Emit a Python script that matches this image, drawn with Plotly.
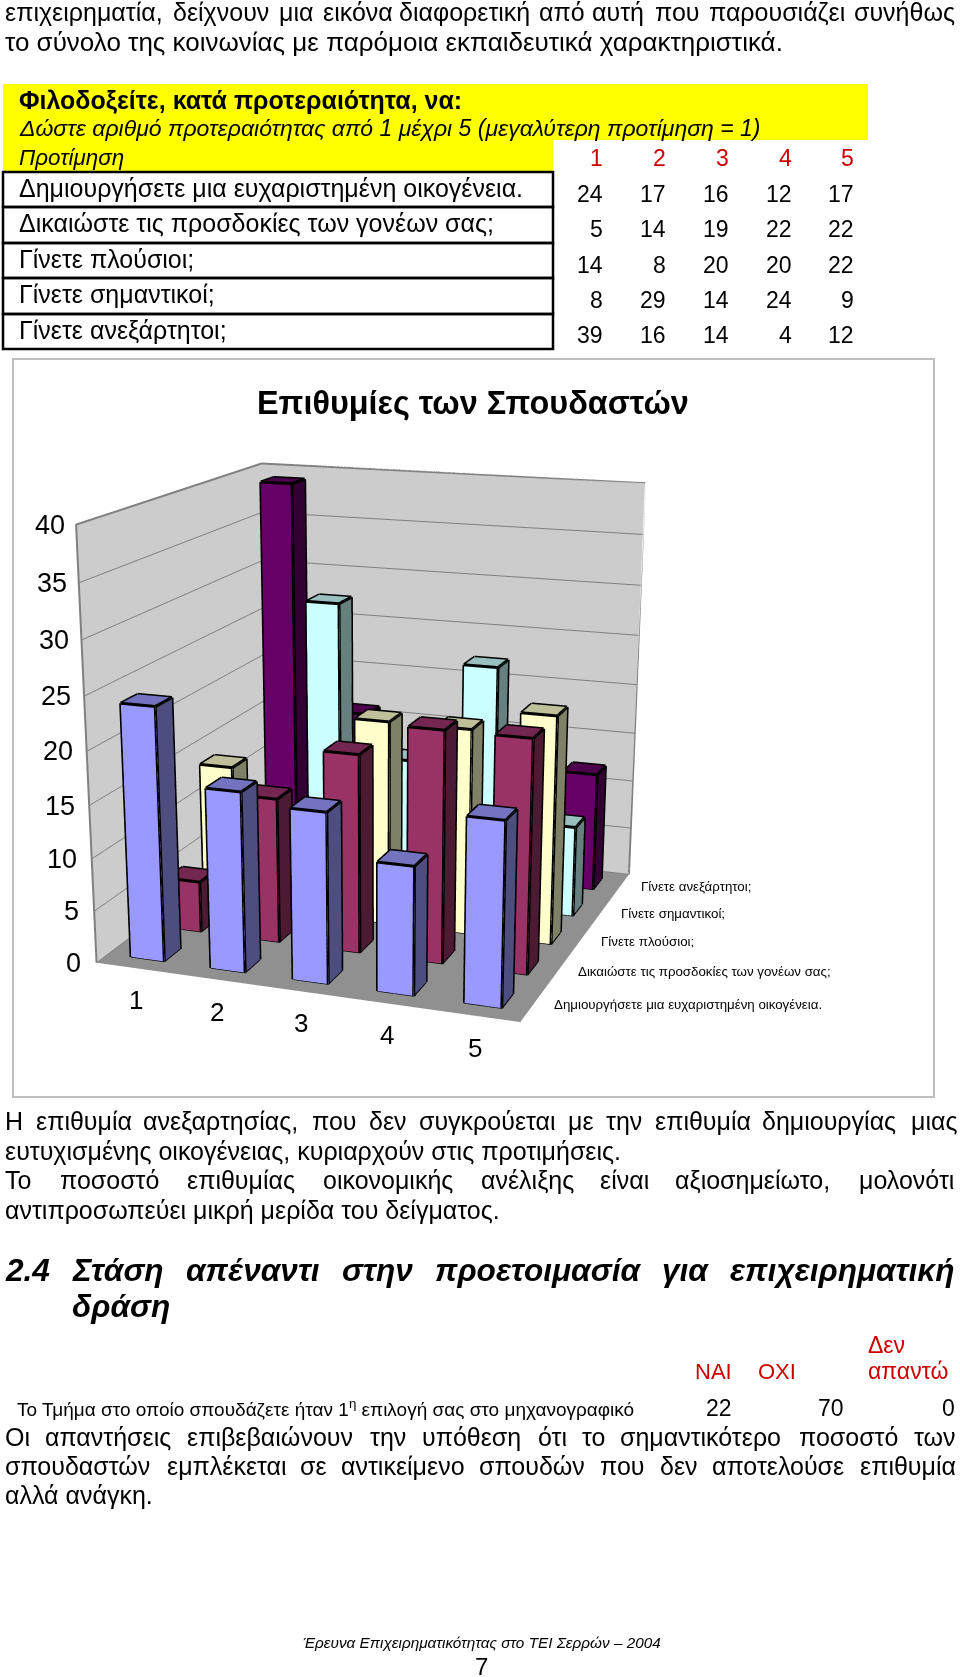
import numpy as np
import plotly.graph_objects as go

# ---------- data ----------
categories=["1","2","3","4","5"]
series_names=["Δημιουργήσετε μια ευχαριστημένη οικογένεια.","Δικαιώστε τις προσδοκίες των γονέων σας;","Γίνετε πλούσιοι;","Γίνετε σημαντικοί;","Γίνετε ανεξάρτητοι;"]
v_family=[24,17,16,12,17]
v_parents=[5,14,19,22,22]
v_rich=[14,8,20,20,22]
v_important=[8,29,14,24,9]
v_independent=[39,16,14,4,12]
rows=[v_family,v_parents,v_rich,v_important,v_independent]
z_ticks=[0,5,10,15,20,25,30,35,40]
front=["#9999FF","#993366","#FFFFCC","#CCFFFF","#660066"]
top=["#7373BF","#732650","#BFBF99","#99BFBF","#4C004C"]
side=["#4D4D80","#4D1A33","#808066","#668080","#330033"]
BW=0.42

# camera fitted to the reference
EX,EY,EZ,AX,AY,CX,CZ=1.5571,-4.3269,1.2111,1.0022,1.0097,378.39,-0.3025
half=min(CX,960-CX)
dom_x=[(CX-half)/960,(CX+half)/960]
dom_y=[0,1]

X,Y,Z,I,J_,K,FC=[],[],[],[],[],[],[]
LX,LY,LZ=[],[],[]
for s,row in enumerate(rows):
    for c,val in enumerate(row):
        x0,x1=c+.5-BW/2,c+.5+BW/2
        y0,y1=s+.5-BW/2,s+.5+BW/2
        n=len(X)
        vs=[(x0,y0,0),(x1,y0,0),(x1,y1,0),(x0,y1,0),(x0,y0,val),(x1,y0,val),(x1,y1,val),(x0,y1,val)]
        for a,b,d in vs: X.append(a);Y.append(b);Z.append(d)
        faces=[((0,1,5),front[s]),((0,5,4),front[s]),((1,2,6),side[s]),((1,6,5),side[s]),((4,5,6),top[s]),((4,6,7),top[s]),((3,0,4),side[s]),((3,4,7),side[s]),((2,3,7),side[s]),((2,7,6),side[s])]
        for (a,b,d),col in faces:
            I.append(n+a);J_.append(n+b);K.append(n+d);FC.append(col)
        for a,b in [(0,1),(1,2),(2,3),(3,0),(4,5),(5,6),(6,7),(7,4),(0,4),(1,5),(2,6),(3,7)]:
            LX+= [vs[a][0],vs[b][0],None];LY+=[vs[a][1],vs[b][1],None];LZ+=[vs[a][2],vs[b][2],None]

fig=go.Figure()
fig.add_trace(go.Mesh3d(x=X,y=Y,z=Z,i=I,j=J_,k=K,facecolor=FC,flatshading=True,hoverinfo="skip",
    lighting=dict(ambient=1,diffuse=0,specular=0,roughness=1,fresnel=0)))
fig.add_trace(go.Scatter3d(x=LX,y=LY,z=LZ,mode="lines",line=dict(color="black",width=6),hoverinfo="skip",showlegend=False))
fig.add_trace(go.Scatter3d(x=[0,0,0,5,5],y=[0,0,5,5,5],z=[0,40,40,40,0],mode="lines",line=dict(color="#808080",width=4),hoverinfo="skip",showlegend=False))
tx,ty,tz=[],[],[]
for t in z_ticks:
    tx+=[0,0,None];ty+=[0,-0.2,None];tz+=[t,t,None]
for i in range(6):
    tx+=[i,i,None];ty+=[0,-0.2,None];tz+=[0,0,None]
    tx+=[5,5.2,None];ty+=[i,i,None];tz+=[0,0,None]
fig.add_trace(go.Scatter3d(x=tx,y=ty,z=tz,mode="lines",line=dict(color="#808080",width=2),hoverinfo="skip",showlegend=False))

scene_ann=[]
for t in z_ticks:
    scene_ann.append(dict(x=0,y=0,z=t,text=str(t),showarrow=False,xanchor="right",xshift=-14+5*t/40,font=dict(family="Liberation Sans",size=27,color="black")))
for i,cname in enumerate(categories):
    scene_ann.append(dict(x=i+.5,y=0,z=0,text=cname,showarrow=False,yshift=-32,font=dict(family="Liberation Sans",size=26,color="black")))
for i,sname in enumerate(series_names):
    scene_ann.append(dict(x=5,y=i+.5,z=0,text=sname,showarrow=False,xanchor="left",xshift=19,font=dict(family="Liberation Sans",size=13.3,color="black")))

ax_common=dict(showticklabels=False,title="",zeroline=False,showspikes=False,ticks="",autorange=False,showline=False)
scene=dict(domain=dict(x=dom_x,y=dom_y),aspectmode="manual",aspectratio=dict(x=AX,y=AY,z=1),
    camera=dict(eye=dict(x=EX,y=EY,z=EZ),center=dict(x=0,y=0,z=CZ),up=dict(x=0,y=0,z=1),projection=dict(type="perspective")),
    xaxis=dict(range=[0,5],showgrid=False,showbackground=True,backgroundcolor="#CCCCCC",**ax_common),
    yaxis=dict(range=[0,5],showgrid=False,showbackground=True,backgroundcolor="#CCCCCC",**ax_common),
    zaxis=dict(range=[0,40],tickvals=z_ticks,showgrid=True,gridcolor="#808080",gridwidth=2,showbackground=True,backgroundcolor="#909090",**ax_common),
    annotations=scene_ann,bgcolor="rgba(0,0,0,0)")

FONT="Liberation Sans"
ann=[]
def T(x,y,text,size=25,color="black",anchor="left",bold=False,italic=False):
    if bold: text=f"<b>{text}</b>"
    if italic: text=f"<i>{text}</i>"
    x=x+{"left":-2,"right":2,"center":0}[anchor]
    ann.append(dict(xref="paper",yref="paper",x=x/960,y=1-y/1677,text=text,showarrow=False,xanchor=anchor,yanchor="middle",
        font=dict(family=FONT,size=size,color=color),align=anchor))
def W(y,words,xs,size=25,**k):
    for w,zx in zip(words,xs): T(zx/1.6333,y,w,size=size,**k)

W(12,"επιχειρηματία, δείχνουν μια εικόνα διαφορετική από αυτή που παρουσιάζει συνήθως".split(),[8,282,455,527,652,880,967,1070,1158,1395])
T(5,42,"το σύνολο της κοινωνίας με παρόμοια εκπαιδευτικά χαρακτηριστικά.",size=26)
T(19,100,"Φιλοδοξείτε, κατά προτεραιότητα, να:",bold=True)
T(19,128,"Δώστε αριθμό προτεραιότητας από 1 μέχρι 5 (μεγαλύτερη προτίμηση = 1)",italic=True,size=23)
T(19,158,"Προτίμηση",italic=True,size=22.4)
row_labels_y=[188,223,259,294,330]
num_y=[194,229,265,300,335]
col_x=[603,666,729,792,854]
for i,(name,row) in enumerate(zip(series_names,rows)):
    T(19,row_labels_y[i],name)
    for cx_,val in zip(col_x,row): T(cx_,num_y[i],str(val),anchor="right",size=23)
for cx_,c in zip(col_x,categories): T(cx_,158,c,color="#CC0000",anchor="right",size=23)
T(473,403,"Επιθυμίες των Σπουδαστών",size=32.4,anchor="center",bold=True)

W(1121,"Η επιθυμία ανεξαρτησίας, που δεν συγκρούεται με την επιθυμία δημιουργίας μιας".split(),[8,58,233,510,603,684,928,990,1070,1245,1488])
T(5,1151,"ευτυχισμένης οικογένειας, κυριαρχούν στις προτιμήσεις.")
W(1180,"Το ποσοστό επιθυμίας οικονομικής ανέλιξης είναι αξιοσημείωτο, μολονότι".split(),[8,98,305,527,785,980,1103,1403])
T(5,1210,"αντιπροσωπεύει μικρή μερίδα του δείγματος.")
W(1270,"2.4 Στάση απέναντι στην προετοιμασία για επιχειρηματική".split(),[8,117,303,558,710,1082,1192],size=31.6,bold=True,italic=True)
T(117/1.6333,1306,"δράση",size=31.6,bold=True,italic=True)
T(868,1345,"Δεν",color="#CC0000",size=23); T(695,1371,"ΝΑΙ",color="#CC0000",size=22); T(758,1371,"ΟΧΙ",color="#CC0000",size=22); T(868,1371,"απαντώ",color="#CC0000",size=23)
T(17,1408,"Το Τμήμα στο οποίο σπουδάζετε ήταν 1<sup>η</sup> επιλογή σας στο μηχανογραφικό",size=19)
T(732,1408,"22",anchor="right",size=23); T(844,1408,"70",anchor="right",size=23); T(955,1408,"0",anchor="right",size=23)
W(1437,"Οι απαντήσεις επιβεβαιώνουν την υπόθεση ότι το σημαντικότερο ποσοστό των".split(),[8,73,305,605,690,878,950,1013,1305,1493])
W(1466,"σπουδαστών εμπλέκεται σε αντικείμενο σπουδών που δεν αποτελούσε επιθυμία".split(),[8,272,490,557,783,980,1078,1163,1405])
T(5,1495,"αλλά ανάγκη.")
T(482,1642,"Έρευνα Επιχειρηματικότητας στο ΤΕΙ Σερρών – 2004",size=15.3,anchor="center",italic=True)
T(481,1666,"7",size=24,anchor="center")

def R(x0,y0,x1,y1,**k):
    return dict(type="rect",xref="paper",yref="paper",x0=x0/960,x1=x1/960,y0=1-y0/1677,y1=1-y1/1677,layer="below",**k)
shapes=[R(3,84,868,140,fillcolor="#FFFF00",line=dict(width=0)),R(3,140,553,172,fillcolor="#FFFF00",line=dict(width=0)),
        R(13,359,934,1097,fillcolor="white",line=dict(color="#BFBFBF",width=2))]
ys=[172,207,243,278,314,349]
for a,b in zip(ys[:-1],ys[1:]):
    shapes.append(R(3,a,553,b,line=dict(color="black",width=2.5)))

fig.update_layout(width=960,height=1677,margin=dict(l=0,r=0,t=0,b=0),paper_bgcolor="white",showlegend=False,
    scene=scene,annotations=ann,shapes=shapes)
fig.write_html("out.html",config=dict(displayModeBar=False),post_script="document.body.style.margin='0';")
